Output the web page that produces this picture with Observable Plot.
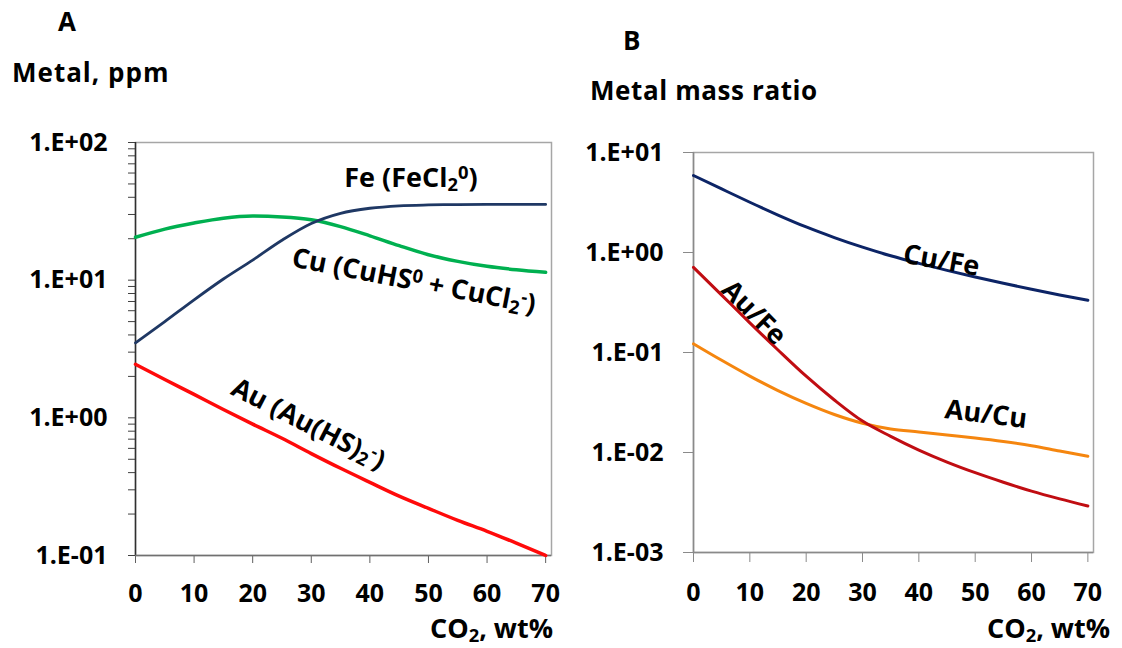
<!DOCTYPE html>
<html><head><meta charset="utf-8">
<script src="https://cdn.jsdelivr.net/npm/d3@7"></script>
<script src="https://cdn.jsdelivr.net/npm/@observablehq/plot@0.6"></script>
<style>
html,body{margin:0;padding:0;background:#fff;}
#wrap{position:relative;width:1122px;height:648px;overflow:hidden;font-family:"Open Sans",sans-serif;}
#wrap svg{position:absolute;top:0;}
</style></head><body><div id="wrap"></div>
<script>
// ---- data ----
const co2 = [0,5,10,15,20,25,30,35,40,45,50,55,60,65,70];
// Panel A: metal concentration, ppm
const fePpm = [3.5,5.0,7.2,10.2,14,19.5,25.8,30.6,33.3,34.7,35.2,35.4,35.5,35.5,35.5];
const cuPpm = [20.5,23.5,26,28.2,29.2,28.8,27.5,24.5,21,17.8,15.3,13.7,12.6,11.9,11.4];
const auPpm = [2.45,1.9,1.48,1.15,0.9,0.71,0.55,0.43,0.34,0.27,0.22,0.18,0.15,0.123,0.1];
// Panel B: metal mass ratios
const cuFe = [5.89,4.32,3.18,2.37,1.8,1.41,1.13,0.927,0.778,0.662,0.569,0.492,0.429,0.376,0.333];
const auFe = [0.71,0.375,0.198,0.106,0.0579,0.0335,0.0206,0.0145,0.01057,0.00802,0.00628,0.00504,0.00411,0.00344,0.00292];
const auCu = [0.1222,0.0836,0.0581,0.0416,0.031,0.024,0.01963,0.01718,0.01603,0.01496,0.01396,0.01288,0.01169,0.01033,0.00916];

// ticks
const xTicks = [0,10,20,30,40,50,60,70];
const xTickLabels = ["0","10","20","30","40","50","60","70"];
const yTicksA = [0.1,1,10,100];
const yTickLabelsA = ["1.E-01","1.E+00","1.E+01","1.E+02"];
const yMinorA = [0.2,0.3,0.4,0.5,0.6,0.7,0.8,0.9,2,3,4,5,6,7,8,9,20,30,40,50,60,70,80,90];
const yTicksB = [0.001,0.01,0.1,1,10];
const yTickLabelsB = ["1.E-03","1.E-02","1.E-01","1.E+00","1.E+01"];

// in-plot labels (data coordinates)
const labelsA = ["Fe (FeCl_2^0)", "Cu (CuHS^0 + CuCl_2^-)", "Au (Au(HS)_2^-)"];
const labelXA = [47, 47.5, 29.5];
const labelYA = [55, 9.8, 0.9];
const labelRotA = [0, 11, 27];
const labelsB = ["Cu/Fe", "Au/Fe", "Au/Cu"];
const labelXB = [44, 10.7, 51.9];
const labelYB = [0.83, 0.25, 0.024];
const labelRotB = [10, 45, 7];

const rows = vals => co2.map((x, i) => ({x, y: vals[i]}));
const ann = (t, xs, ys, rs) => t.map((label, i) => ({label, x: xs[i], y: ys[i], r: rs[i]}));
const fmt = (ticks, labels) => d => labels[ticks.indexOf(d)];

const baseStyle = {background:"transparent", fontFamily:"'Open Sans', sans-serif", fontSize:"25px", fontWeight:"bold", color:"#000", overflow:"visible"};

const plotA = Plot.plot({
  width: 560, height: 648,
  marginLeft: 135, marginRight: 9, marginTop: 142, marginBottom: 93,
  x: {type:"linear", domain:[0,71]},
  y: {type:"log", domain:[0.1,100]},
  style: baseStyle,
  marks: [
    Plot.frame({stroke:"#a6a6a6", strokeWidth:1.5}),
    Plot.axisY(yMinorA, {tickSize:7, tickFormat: () => "", stroke:"#404040", label:null}),
    Plot.axisY(yTicksA, {tickSize:7, tickPadding:21, tickFormat: fmt(yTicksA, yTickLabelsA), stroke:"#404040", label:null}),
    Plot.axisX(xTicks, {tickSize:8, tickPadding:21, tickFormat: fmt(xTicks, xTickLabels), stroke:"#606060", label:null}),
    Plot.ruleX([0], {stroke:"#303030", strokeWidth:1.5}),
    Plot.ruleY([0.1], {stroke:"#707070", strokeWidth:1.5}),
    Plot.line(rows(cuPpm), {x:"x", y:"y", stroke:"#00b050", strokeWidth:3.5, curve:"monotone-x"}),
    Plot.line(rows(fePpm), {x:"x", y:"y", stroke:"#1f3864", strokeWidth:2.8, curve:"monotone-x"}),
    Plot.line(rows(auPpm), {x:"x", y:"y", stroke:"#ff0a0a", strokeWidth:3.5, curve:"monotone-x"}),
    Plot.text(ann(labelsA, labelXA, labelYA, labelRotA), {x:"x", y:"y", text:"label", rotate:"r", fontSize:27, fontWeight:"bold", fill:"#000"})
  ]
});

const plotB = Plot.plot({
  width: 562, height: 648,
  marginLeft: 133, marginRight: 29, marginTop: 152, marginBottom: 96,
  x: {type:"linear", domain:[0,71]},
  y: {type:"log", domain:[0.001,10]},
  style: baseStyle,
  marks: [
    Plot.frame({stroke:"#a6a6a6", strokeWidth:1.5}),
    Plot.axisY(yTicksB, {tickSize:10, tickPadding:20, tickFormat: fmt(yTicksB, yTickLabelsB), stroke:"#8a8a8a", label:null}),
    Plot.axisX(xTicks, {tickSize:10, tickPadding:21, tickFormat: fmt(xTicks, xTickLabels), stroke:"#8a8a8a", label:null}),
    Plot.ruleX([0], {stroke:"#8a8a8a", strokeWidth:1.5}),
    Plot.ruleY([0.001], {stroke:"#8a8a8a", strokeWidth:1.5}),
    Plot.line(rows(cuFe), {x:"x", y:"y", stroke:"#0c2466", strokeWidth:3, curve:"monotone-x"}),
    Plot.line(rows(auCu), {x:"x", y:"y", stroke:"#f5860f", strokeWidth:3, curve:"monotone-x"}),
    Plot.line(rows(auFe), {x:"x", y:"y", stroke:"#c00d12", strokeWidth:3, curve:"monotone-x"}),
    Plot.text(ann(labelsB, labelXB, labelYB, labelRotB), {x:"x", y:"y", text:"label", rotate:"r", fontSize:27, fontWeight:"bold", fill:"#000"})
  ]
});

// turn _x / ^x markers into real sub/superscript tspans
const NS = "http://www.w3.org/2000/svg";
function richify(root) {
  root.querySelectorAll("text").forEach(t => {
    if (t.querySelector("tspan")) return;
    const s = t.textContent;
    if (!/[_^]/.test(s)) return;
    t.textContent = "";
    const re = /([_^])(.)|([^_^]+)/g;
    let m;
    while ((m = re.exec(s))) {
      const ts = document.createElementNS(NS, "tspan");
      if (m[3] !== undefined) ts.textContent = m[3];
      else {
        ts.textContent = m[2];
        ts.setAttribute("font-size", "0.68em");
        ts.setAttribute("baseline-shift", m[1] === "_" ? "-22%" : "45%");
      }
      t.appendChild(ts);
    }
  });
}
richify(plotA); richify(plotB);

const wrap = document.getElementById("wrap");
plotA.style.left = "0px";
plotB.style.left = "560px";
wrap.appendChild(plotA);
wrap.appendChild(plotB);

// titles overlay
const titles = [
  {t:"A", x:58, y:31, size:26, anchor:"start"},
  {t:"Metal, ppm", x:12, y:82, size:26, anchor:"start", ls:1},
  {t:"B", x:623, y:50, size:26, anchor:"start"},
  {t:"Metal mass ratio", x:590, y:100, size:26, anchor:"start", ls:0.6},
  {t:"CO_2, wt%", x:553, y:638, size:27, anchor:"end"},
  {t:"CO_2, wt%", x:1110, y:638, size:27, anchor:"end"}
];
const over = d3.create("svg").attr("width",1122).attr("height",648)
  .style("left","0px").style("pointer-events","none")
  .style("font-family","'Open Sans', sans-serif").style("font-weight","bold").style("fill","#000");
over.selectAll("text").data(titles).join("text")
  .attr("x", d => d.x).attr("y", d => d.y)
  .attr("font-size", d => d.size).attr("text-anchor", d => d.anchor)
  .attr("letter-spacing", d => d.ls || 0)
  .text(d => d.t);
const overNode = over.node();
richify(overNode);
wrap.appendChild(overNode);
</script></body></html>
